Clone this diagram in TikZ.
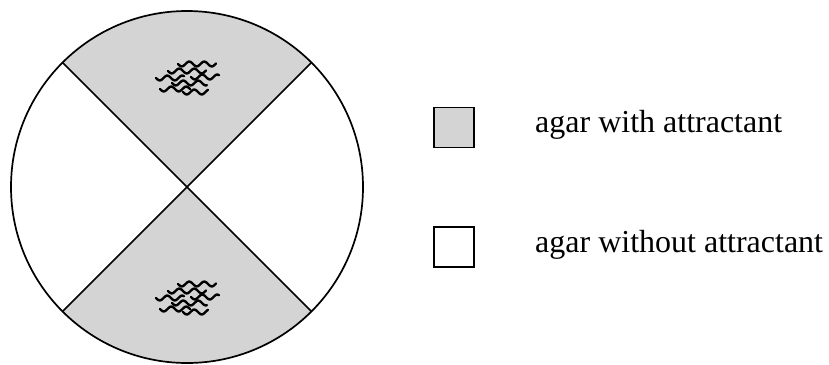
\documentclass[tikz,border=0pt]{standalone}
\usepackage{fontspec}
\setmainfont{Liberation Serif}
\usetikzlibrary{calc}
\begin{document}
\begin{tikzpicture}[x=1pt,y=-1pt,
  rim/.style={line width=1.7pt,black},
  agar/.style={fill=black!17},
  legbox/.style={draw=black,line width=1.5pt,minimum width=40pt,minimum height=40pt,inner sep=0pt},
  legtext/.style={anchor=base west,inner sep=0pt,font=\fontsize{32}{38}\selectfont},
  worm/.pic={\draw[line width=2.4pt,line cap=round,domain=0:\pgfkeysvalueof{/tikz/wormlen},samples=40,smooth] plot (\x,{2.4*sin(\x*24)});},
  wormlen/.initial=30]
\useasboundingbox (0,0) rectangle (829,364);
\coordinate (C) at (187,187);
% shaded sectors
\begin{scope}
  \clip (C) circle[radius=176];
  \fill[agar] (C) -- ++(-250,-250) -- ++(500,0) -- cycle;
  \fill[agar] (C) -- ++(-250,250) -- ++(500,0) -- cycle;
\end{scope}
\coordinate (UL) at ($(C)+(-124.5,-124.5)$);
\coordinate (UR) at ($(C)+(124.5,-124.5)$);
\coordinate (LL) at ($(C)+(-124.5,124.5)$);
\coordinate (LR) at ($(C)+(124.5,124.5)$);
\draw[rim] (UL) -- (LR);
\draw[rim] (UR) -- (LL);
\draw[rim] (C) circle[radius=176];
% worms
\foreach \dy in {0,220}{
  \begin{scope}[yshift=-\dy]
  \pic[wormlen=38] at (178,64) {worm};
  \pic[wormlen=38] at (168,71) {worm};
  \pic[wormlen=28] at (156,78) {worm};
  \pic[wormlen=28] at (191,77) {worm};
  \pic[wormlen=35] at (172,83) {worm};
  \pic[wormlen=30] at (160,89) {worm};
  \pic[wormlen=25] at (183,92) {worm};
  \end{scope}
}
% legend
\node[legbox,agar] (b1) at (454,127.5) {};
\node[legbox] (b2) at (454,247) {};
\node[legtext] (t1) at (535,132) {agar with attractant};
\node[legtext] (t2) at (535,252) {agar without attractant};
\end{tikzpicture}
\end{document}
